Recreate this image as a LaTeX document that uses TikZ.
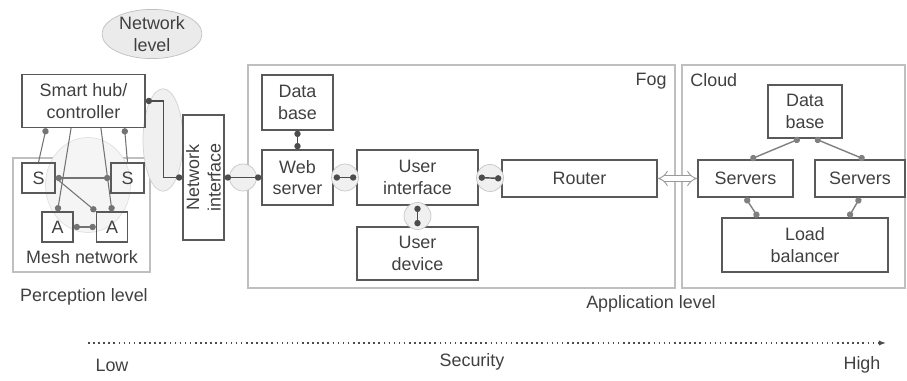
\documentclass[tikz,border=0pt]{standalone}
\usepackage{fontspec}
\setmainfont{Liberation Sans}
\usetikzlibrary{arrows.meta,calc,shapes.geometric}

\begin{document}
\begin{tikzpicture}[
  x=0.02cm, y=-0.02cm,
  every node/.style={font=\fontsize{10.2}{12.3}\selectfont, text=black!75},
  blk/.style={draw=black!65, line width=0.8pt, align=center, inner sep=1pt},
  zone/.style={draw=black!25, line width=0.9pt},
  bubble/.style={circle, draw=black!22, fill=black!6, minimum size=0.54cm},
  lnk/.style={draw=black!70, line width=0.8pt, {Circle[length=3.6pt]}-{Circle[length=3.6pt]}},
  thin lnk/.style={draw=black!55, line width=0.6pt}
]
  \useasboundingbox (0,0) rectangle (907,381);

  % zones
  \node[zone, minimum width=2.74cm, minimum height=2.28cm] (mesh) at (81.5,215) {};
  \node[zone, minimum width=8.54cm, minimum height=4.46cm] (fog) at (461.5,176.5) {};
  \node[zone, minimum width=4.46cm, minimum height=4.46cm] (cloud) at (793.5,176.5) {};
  \node[anchor=north east, inner sep=5pt] (foglbl) at (fog.north east) {Fog};
  \node[anchor=north west, inner sep=5pt] (cloudlbl) at (cloud.north west) {Cloud};

  % shaded network areas
  \node[ellipse, draw=black!25, fill=black!8, minimum width=2.0cm, minimum height=0.98cm,
        align=center, inner sep=0pt] (netlvl) at (152,34) {Network\\level};
  \node[ellipse, draw=black!18, fill=black!6, minimum width=0.8cm, minimum height=2.05cm] (netzone) at (163,140) {};
  \node[ellipse, draw=black!12, fill=black!4, minimum width=1.7cm, minimum height=1.9cm] (meshzone) at (88,185) {};

  % perception level
  \node[blk, minimum width=2.46cm, minimum height=1.06cm] (hub) at (83.5,101) {Smart hub/\\controller};
  \node[blk, minimum width=0.66cm, minimum height=0.6cm] (s1) at (38.5,178) {S};
  \node[blk, minimum width=0.66cm, minimum height=0.6cm] (s2) at (127.5,178) {S};
  \node[blk, minimum width=0.62cm, minimum height=0.6cm] (a1) at (57.5,227) {A};
  \node[blk, minimum width=0.62cm, minimum height=0.6cm] (a2) at (112,227) {A};
  \node (meshlbl) at (82,257) {Mesh network};
  \node (perclbl) at (84,297) {Perception level};

  \node[blk, rotate=90, inner sep=0pt, minimum width=2.5cm, minimum height=0.82cm] (ni) at (203.5,177.5) {Network\\interface};

  % fog
  \node[blk, minimum width=1.42cm, minimum height=1.1cm] (fogdb) at (297.5,102.5) {Data\\base};
  \node[blk, minimum width=1.42cm, minimum height=1.1cm] (web) at (297.5,177.5) {Web\\server};
  \node[blk, minimum width=2.42cm, minimum height=1.1cm] (ui) at (417.5,177.5) {User\\interface};
  \node[blk, minimum width=2.42cm, minimum height=1.06cm] (dev) at (417.5,253.5) {User\\device};
  \node[blk, minimum width=3.1cm, minimum height=0.74cm] (router) at (579.5,178.5) {Router};

  % cloud
  \node[blk, minimum width=1.48cm, minimum height=1.06cm] (clouddb) at (805,111.5) {Data\\base};
  \node[blk, minimum width=1.9cm, minimum height=0.74cm] (srvA) at (745.5,178.5) {Servers};
  \node[blk, minimum width=1.8cm, minimum height=0.74cm] (srvB) at (860,178.5) {Servers};
  \node[blk, minimum width=3.32cm, minimum height=1.08cm] (lb) at (805,245) {Load\\balancer};
  \node (applbl) at (651,304) {Application level};

  % bubbles on the fog links
  \node[bubble] (b1) at ($(ni.south)!0.5!(web.west)$) {};
  \node[bubble] (b2) at ($(web.east)!0.5!(ui.west)$) {};
  \node[bubble] (b3) at ($(ui.south)!0.5!(dev.north)$) {};
  \node[bubble] (b4) at ($(ui.east)!0.5!(router.west)$) {};

  % mesh links
  \draw[thin lnk, {Circle[length=3.6pt]}-] ($(hub.south west)!0.2!(hub.south east)$) -- (s1.north);
  \draw[thin lnk, -{Circle[length=3.6pt]}] ($(hub.south west)!0.4!(hub.south east)$) -- (a1.north);
  \draw[thin lnk, -{Circle[length=3.6pt]}] ($(hub.south west)!0.64!(hub.south east)$) -- (a2.north);
  \draw[thin lnk, {Circle[length=3.6pt]}-] ($(hub.south west)!0.83!(hub.south east)$) -- (s2.north);
  \draw[thin lnk, {Circle[length=3.6pt]}-{Circle[length=3.6pt]}] (s1.east) -- (s2.west);
  \draw[thin lnk, -{Circle[length=3.6pt]}] (s1.east) -- (a2.north west);
  \draw[thin lnk, {Circle[length=3.6pt]}-{Circle[length=3.6pt]}] (a1.east) -- (a2.west);

  % network level
  \draw[lnk] (hub.east) -- ++(18,0) |- (ni.north);
  \draw[lnk] (ni.south) -- (web.west);

  % fog links
  \draw[lnk] (fogdb.south) -- (web.north);
  \draw[lnk] (web.east) -- (ui.west);
  \draw[lnk] (ui.south) -- (dev.north);
  \draw[lnk] (ui.east) -- (router.west);
  \draw[draw=black!40, line width=0.5pt, double=white, double distance=2.6pt,
        {Implies}-{Implies}] (router.east) -- (srvA.west);

  % cloud links
  \draw[lnk, draw=black!50] ($(clouddb.south west)!0.43!(clouddb.south east)$) -- ($(srvA.north west)!0.55!(srvA.north east)$);
  \draw[lnk, draw=black!50] ($(clouddb.south west)!0.63!(clouddb.south east)$) -- ($(srvB.north west)!0.55!(srvB.north east)$);
  \draw[lnk, draw=black!50] ($(srvA.south west)!0.5!(srvA.south east)$) -- ($(lb.north west)!0.22!(lb.north east)$);
  \draw[lnk, draw=black!50] ($(srvB.south west)!0.5!(srvB.south east)$) -- ($(lb.north west)!0.76!(lb.north east)$);

  % security scale
  \coordinate (lo) at (88,343);
  \coordinate (hi) at (886,343);
  \draw[dotted, line width=0.9pt, draw=black!70, -{Latex[length=4pt]}] (lo) -- (hi);
  \node (low) at (112,365) {Low};
  \node (sec) at (472,362) {Security};
  \node (high) at (862,365) {High};
\end{tikzpicture}
\end{document}
